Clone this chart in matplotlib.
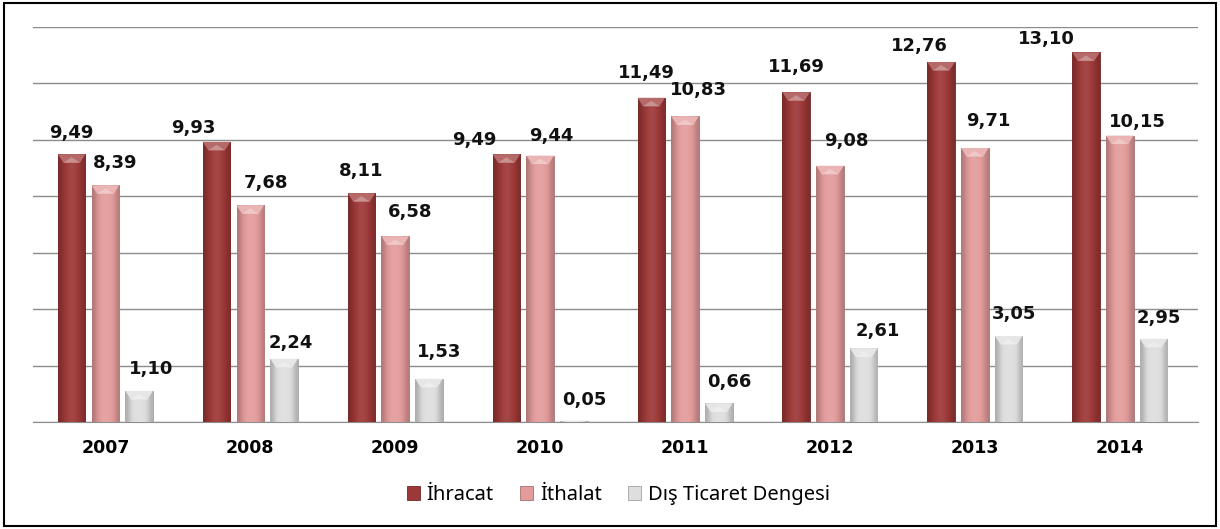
import matplotlib
matplotlib.use("Agg")
import matplotlib.pyplot as plt
import matplotlib.colors as mcolors
from matplotlib.patches import Rectangle, Polygon
import numpy as np

years = ["2007", "2008", "2009", "2010", "2011", "2012", "2013", "2014"]
ihracat = [9.49, 9.93, 8.11, 9.49, 11.49, 11.69, 12.76, 13.10]
ithalat = [8.39, 7.68, 6.58, 9.44, 10.83, 9.08, 9.71, 10.15]
denge = [1.10, 2.24, 1.53, 0.05, 0.66, 2.61, 3.05, 2.95]

series_names = ["İhracat", "İthalat", "Dış Ticaret Dengesi"]
colors = ["#9c3837", "#e39b9b", "#dedede"]

# label offsets from bar top (pixels)
lbl_dx = [[0, -23, 0, -32, -5, 0, -22, -40],
          [10, 16, 15, 11, 13, 16, 13, 18],
          [12, 7, 10, 10, 10, 14, 5, 5]]
lbl_dy = [[21, 14, 22, 14, 25, 25, 16, 13],
          [22, 22, 24, 20, 26, 25, 27, 14],
          [22, 16, 27, 21, 21, 17, 22, 21]]

plt.rcParams['font.family'] = ['Noto Sans', 'DejaVu Sans']

fig = plt.figure(figsize=(12.2, 5.29), dpi=100)
ax = fig.add_axes([0.027, 0.2023, 0.955, 0.7467])

x = np.arange(len(years))
w = 0.19
offsets = [-0.233, 0.0, 0.233]


def shade(c, f):
    r, g, b = mcolors.to_rgb(c)
    if f < 1:
        return (r * f, g * f, b * f)
    return tuple(v + (1 - v) * (f - 1) for v in (r, g, b))


ax.set_xlim(-0.5, 7.54)
ax.set_ylim(0, 14)

for i, vals in enumerate([ihracat, ithalat, denge]):
    bars = ax.bar(x + offsets[i], vals, w, color=colors[i], edgecolor=shade(colors[i], 0.72),
                  linewidth=0.6, label=series_names[i], zorder=3)
    # horizontal shading so the bars look rounded like the original
    prof = np.array([0.78, 0.9, 1.0, 1.06, 1.08, 1.06, 1.0, 0.92, 0.8])
    grad = np.array([[shade(colors[i], f) for f in prof]])
    for b, v, dx, dy in zip(bars, vals, lbl_dx[i], lbl_dy[i]):
        x0, bw = b.get_x(), b.get_width()
        im = ax.imshow(grad, extent=[x0, x0 + bw, 0, v], aspect="auto",
                       interpolation="bicubic", zorder=3.1)
        im.set_clip_path(b)
        bev = min(0.3, v)
        ax.add_patch(Polygon([[x0, v], [x0 + bw, v], [x0 + bw * 0.8, v - bev],
                              [x0 + bw * 0.2, v - bev]],
                             closed=True, facecolor=shade(colors[i], 1.25),
                             edgecolor="none", zorder=3.2))
        ax.add_patch(Polygon([[x0 + bw * 0.2, v - bev], [x0 + bw * 0.8, v - bev],
                              [x0 + bw / 2, v - bev * 0.35]],
                             closed=True, facecolor=shade(colors[i], 1.45),
                             edgecolor="none", zorder=3.3))
        ax.annotate(f"{v:.2f}".replace(".", ","), xy=(x0 + bw / 2, v),
                    xytext=(dx, dy), textcoords="offset pixels",
                    ha="center", va="center", fontsize=13, fontweight="bold",
                    family="DejaVu Sans", color="#111111", zorder=5)

ax.set_yticks(np.arange(0, 15, 2))
ax.yaxis.grid(True, color="#8c8c8c", linewidth=1.0, zorder=0)
ax.tick_params(axis="y", left=False, labelleft=False)
ax.tick_params(axis="x", length=0, pad=12)
ax.set_xticks(x)
ax.set_xticklabels(years, fontsize=12.5, fontweight="bold", family="DejaVu Sans")
for s in ["top", "right", "left"]:
    ax.spines[s].set_visible(False)
ax.spines["bottom"].set_color("#8c8c8c")

fig.legend(loc="center", bbox_to_anchor=(0.507, 0.064), ncol=3, frameon=False,
           fontsize=14.5, handlelength=0.65, handleheight=0.65, columnspacing=1.3,
           handletextpad=0.35)

fig.patches.append(Rectangle((0.003, 0.006), 0.994, 0.988, transform=fig.transFigure,
                             fill=False, edgecolor="black", linewidth=1.5))

fig.savefig("out.png", dpi=100)
